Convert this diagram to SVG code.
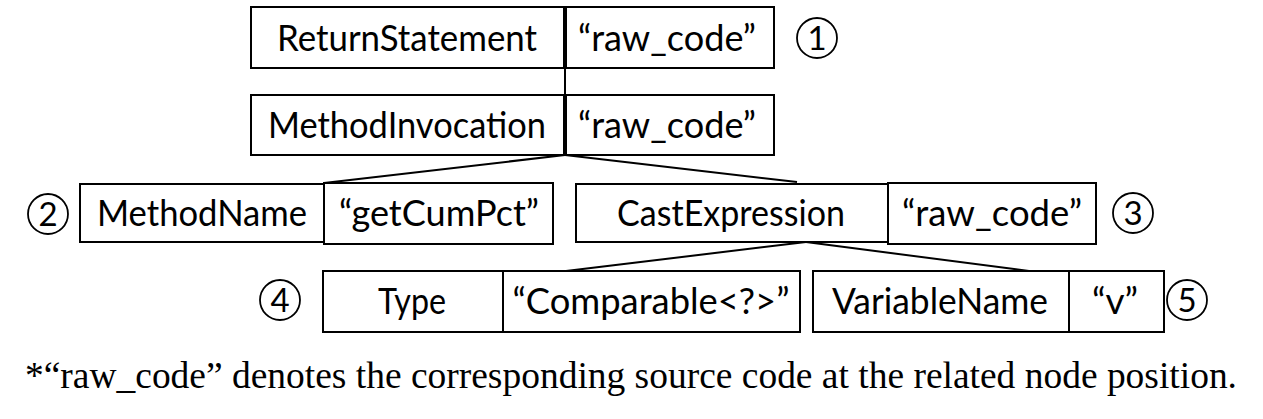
<svg xmlns="http://www.w3.org/2000/svg" width="1263" height="419" viewBox="0 0 1263 419">
<style>
.box{fill:#fff;stroke:#000;stroke-width:2}
.lbl{font-family:Lato,"Open Sans","Liberation Sans",sans-serif;font-size:37px;fill:#000;text-anchor:middle}
.num{font-family:Lato,"Open Sans","Liberation Sans",sans-serif;font-size:33px;fill:#000;text-anchor:middle}
.circ{fill:none;stroke:#000;stroke-width:1.8}
.edge{stroke:#000;stroke-width:2;fill:none}
.cap{font-family:"Liberation Serif","Times New Roman",serif;font-size:38px;fill:#000}
</style>
<rect width="1263" height="419" fill="#fff"/>
<g id="connectors">
<line class="edge" x1="565" y1="68" x2="565" y2="95"/>
<line class="edge" x1="565" y1="155" x2="324" y2="183"/>
<line class="edge" x1="565" y1="155" x2="797" y2="182"/>
<line class="edge" x1="806" y1="242" x2="566" y2="271"/>
<line class="edge" x1="806" y1="242" x2="1029" y2="271"/>
</g>
<g id="node1">
<rect class="box" x="251" y="7" width="313" height="61"/>
<rect class="box" x="566" y="7" width="208" height="61"/>
<text class="lbl" x="407" y="51" textLength="260" lengthAdjust="spacingAndGlyphs">ReturnStatement</text>
<text class="lbl" x="667" y="51" textLength="178" lengthAdjust="spacingAndGlyphs">“raw_code”</text>
<circle class="circ" cx="817" cy="38" r="20"/>
<text class="num" x="817" y="50">1</text>
</g>
<g id="node-methodinvocation">
<rect class="box" x="251" y="95" width="313" height="60"/>
<rect class="box" x="566" y="95" width="208" height="60"/>
<text class="lbl" x="407" y="138" textLength="278" lengthAdjust="spacingAndGlyphs">MethodInvocation</text>
<text class="lbl" x="667" y="138" textLength="178" lengthAdjust="spacingAndGlyphs">“raw_code”</text>
</g>
<g id="node2">
<rect class="box" x="80" y="184" width="244" height="58"/>
<rect class="box" x="324" y="183" width="229" height="61"/>
<text class="lbl" x="202" y="226" textLength="210" lengthAdjust="spacingAndGlyphs">MethodName</text>
<text class="lbl" x="439" y="226" textLength="200" lengthAdjust="spacingAndGlyphs">“getCumPct”</text>
<circle class="circ" cx="48" cy="214" r="20"/>
<text class="num" x="48" y="226">2</text>
</g>
<g id="node3">
<rect class="box" x="576" y="184" width="312" height="58"/>
<rect class="box" x="888" y="183" width="208" height="61"/>
<text class="lbl" x="731" y="226" textLength="228" lengthAdjust="spacingAndGlyphs">CastExpression</text>
<text class="lbl" x="992" y="226" textLength="180" lengthAdjust="spacingAndGlyphs">“raw_code”</text>
<circle class="circ" cx="1133" cy="213" r="20"/>
<text class="num" x="1133" y="225">3</text>
</g>
<g id="node4">
<rect class="box" x="323" y="271" width="180" height="61"/>
<rect class="box" x="503" y="271" width="297" height="61"/>
<text class="lbl" x="412" y="314" textLength="68" lengthAdjust="spacingAndGlyphs">Type</text>
<text class="lbl" x="651" y="314" textLength="277" lengthAdjust="spacingAndGlyphs">“Comparable&lt;?&gt;”</text>
<circle class="circ" cx="280" cy="300" r="20"/>
<text class="num" x="280" y="312">4</text>
</g>
<g id="node5">
<rect class="box" x="813" y="271" width="256" height="61"/>
<rect class="box" x="1069" y="271" width="95" height="61"/>
<text class="lbl" x="940" y="314" textLength="216" lengthAdjust="spacingAndGlyphs">VariableName</text>
<text class="lbl" x="1115" y="314">“v”</text>
<circle class="circ" cx="1187" cy="300" r="20"/>
<text class="num" x="1187" y="312">5</text>
</g>
<text class="cap" x="25" y="388" textLength="1212" lengthAdjust="spacingAndGlyphs">*“raw_code” denotes the corresponding source code at the related node position.</text>
</svg>
